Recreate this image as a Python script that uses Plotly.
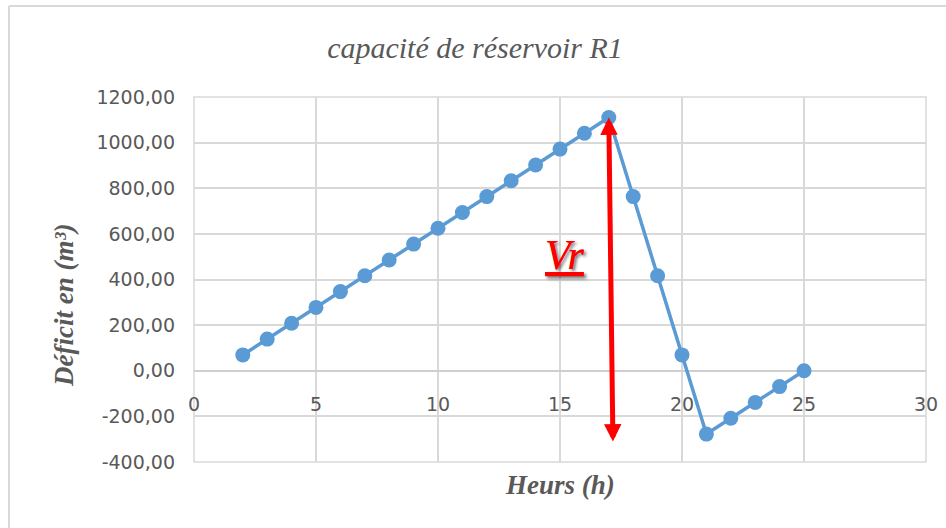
import plotly.graph_objects as go

# ---- data ----
hours = [2, 3, 4, 5, 6, 7, 8, 9, 10, 11, 12, 13, 14, 15, 16, 17,
         18, 19, 20, 21, 22, 23, 24, 25]
deficit = [69.4, 138.8, 208.2, 277.6, 347.0, 416.4, 485.8, 555.2, 624.6,
           694.0, 763.4, 832.8, 902.2, 971.6, 1041.0, 1110.4,
           763.4, 416.4, 69.4, -277.6, -208.2, -138.8, -69.4, 0.0]
x_ticks = [0, 5, 10, 15, 20, 25, 30]
y_ticks = [-400, -200, 0, 200, 400, 600, 800, 1000, 1200]
y_tick_labels = ["-400,00", "-200,00", "0,00", "200,00", "400,00",
                 "600,00", "800,00", "1000,00", "1200,00"]
arrow_bottom = (17.17, -317)   # lower end of the Vr arrow (data units)
vr_label_pos = (15.22, 506)

title_text = "capacité de réservoir R1"
x_title = "Heurs (h)"
y_title = "Déficit en (m³)"

W, H = 946, 528
ML, MR, MT, MB = 194, 20, 97, 66
PW, PH = W - ML - MR, H - MT - MB


def pxx(p):
    return (p - ML) / PW


def pxy(p):
    return (H - MB - p) / PH


GRAY_TXT = "#595959"
GRID = "#d9d9d9"
BLUE = "#5b9bd5"

fig = go.Figure()
fig.add_trace(go.Scatter(
    x=hours, y=deficit, mode="lines+markers",
    line=dict(color=BLUE, width=3.5),
    marker=dict(color=BLUE, size=15),
    showlegend=False, hoverinfo="x+y"))

peak_i = deficit.index(max(deficit))

annotations = [
    # Vr double arrow
    dict(x=hours[peak_i], y=deficit[peak_i], xref="x", yref="y",
         ax=arrow_bottom[0], ay=arrow_bottom[1], axref="x", ayref="y",
         text="", showarrow=True, arrowside="end+start",
         arrowhead=2, startarrowhead=2, arrowsize=0.7, startarrowsize=0.7,
         arrowwidth=5, arrowcolor="#ff0000", standoff=0, startstandoff=0),
    dict(x=vr_label_pos[0], y=vr_label_pos[1], xref="x", yref="y",
         xanchor="center", yanchor="middle",
         text="<u>Vr</u>", showarrow=False,
         font=dict(family="Liberation Serif", size=42, color="#ff0000",
                   style="italic", shadow="2px 2px 3px rgba(0,0,0,0.3)")),
    dict(x=pxx(560), y=pxy(485), xref="paper", yref="paper",
         xanchor="center", yanchor="middle",
         text="<b><i>" + x_title + "</i></b>", showarrow=False,
         font=dict(family="Liberation Serif", size=27, color=GRAY_TXT)),
    dict(x=pxx(64), y=pxy(305), xref="paper", yref="paper",
         xanchor="center", yanchor="middle",
         text="<b><i>" + y_title + "</i></b>", showarrow=False, textangle=-90,
         font=dict(family="Liberation Serif", size=27, color=GRAY_TXT)),
]

shapes = [
    dict(type="rect", xref="paper", yref="paper", x0=0, x1=1, y0=0, y1=1,
         line=dict(color=GRID, width=1.5), layer="below"),
    dict(type="line", xref="paper", yref="paper",
         x0=pxx(9), x1=pxx(W + 5), y0=pxy(6), y1=pxy(6),
         line=dict(color=GRID, width=2)),
    dict(type="line", xref="paper", yref="paper",
         x0=pxx(9), x1=pxx(9), y0=pxy(6), y1=pxy(H + 5),
         line=dict(color=GRID, width=2)),
]

fig.update_layout(
    template="none",
    width=W, height=H,
    margin=dict(l=ML, r=MR, t=MT, b=MB, autoexpand=False),
    paper_bgcolor="white", plot_bgcolor="white",
    title=dict(text="<i>" + title_text + "</i>", x=475 / W, y=1 - 47 / H,
               xanchor="center", yanchor="middle",
               font=dict(family="Liberation Serif", size=30, color=GRAY_TXT)),
    xaxis=dict(range=[0, 30], tickvals=x_ticks, showgrid=True,
               gridcolor=GRID, gridwidth=1.5, zeroline=False,
               showline=False, ticks="", anchor="free",
               position=(0 - y_ticks[0]) / (y_ticks[-1] - y_ticks[0]),
               ticklabelstandoff=20, automargin=False,
               tickfont=dict(family="DejaVu Sans", size=19, color=GRAY_TXT)),
    yaxis=dict(range=[-400, 1200], tickvals=y_ticks, ticktext=y_tick_labels,
               showgrid=True, gridcolor=GRID, gridwidth=1.5,
               zeroline=True, zerolinecolor="#cfcfcf", zerolinewidth=2,
               showline=False, ticks="", ticklabelstandoff=18,
               automargin=False,
               tickfont=dict(family="DejaVu Sans", size=19, color=GRAY_TXT)),
    annotations=annotations,
    shapes=shapes,
)

fig.write_html("out.html",
               config={"displayModeBar": False},
               post_script="document.body.style.margin='0';"
                           "document.body.style.overflow='hidden';")
